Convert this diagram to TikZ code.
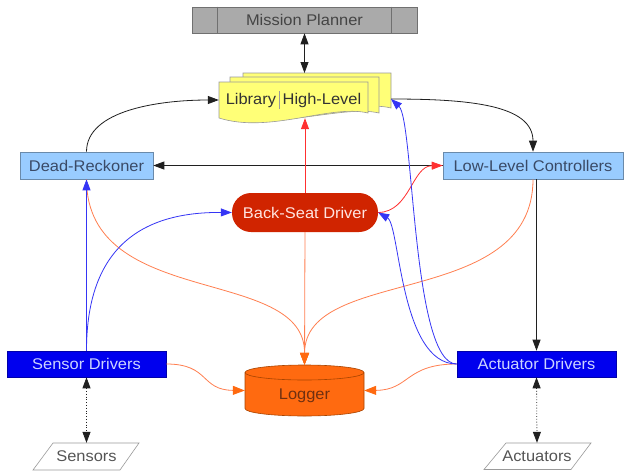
\documentclass[tikz,border=0pt]{standalone}
\usepackage{fontspec}
\setmainfont{Liberation Sans}[FakeStretch=1.06]
\usetikzlibrary{arrows.meta,shapes.geometric,calc}
\definecolor{lblue}{HTML}{99CCFF}
\definecolor{lbord}{HTML}{6A8AAA}
\definecolor{ltext}{HTML}{3A4A66}
\definecolor{mpfill}{HTML}{AAAAAA}
\definecolor{mpbord}{HTML}{707070}
\definecolor{mptext}{HTML}{444444}
\definecolor{libfill}{HTML}{FFFF77}
\definecolor{libbord}{HTML}{9A9A9A}
\definecolor{libtext}{HTML}{333333}
\definecolor{drvfill}{HTML}{0000EE}
\definecolor{drvbord}{HTML}{0000AA}
\definecolor{drvtext}{HTML}{CCD4FF}
\definecolor{bsdfill}{HTML}{D02400}
\definecolor{bsdtext}{HTML}{FFE4E0}
\definecolor{logfill}{HTML}{FF6A10}
\definecolor{logbord}{HTML}{A84400}
\definecolor{logtext}{HTML}{703010}
\definecolor{iobord}{HTML}{9A9A9A}
\definecolor{iotext}{HTML}{555555}
\definecolor{blk}{HTML}{202020}
\definecolor{bline}{HTML}{3535F5}
\definecolor{rline}{HTML}{FF3030}
\definecolor{oline}{HTML}{FF7F50}
\begin{document}
\begin{tikzpicture}[x=1pt,y=-1pt,
  every node/.style={font=\fontsize{15.5}{18}\selectfont, inner sep=0pt},
  tip/.style={-{Triangle[length=11pt,width=8pt]}},
  otip/.style={-{Triangle[length=12pt,width=9pt,color=logfill]}},
  dtip/.style={{Triangle[length=11pt,width=8pt]}-{Triangle[length=11pt,width=8pt]}},
  lbox/.style={draw=lbord, fill=lblue, text=ltext, minimum height=27pt, line width=0.6pt},
  dbox/.style={draw=drvbord, fill=drvfill, text=drvtext, minimum height=26pt, minimum width=159pt, line width=0.6pt},
  iobox/.style={text=iotext, minimum height=27pt, minimum width=87pt},
  ioshape/.style={draw=iobord, fill=white, line width=0.6pt},
  sheet/.style={draw=libbord, fill=libfill, line width=0.6pt},
  kline/.style={draw=blk, line width=0.8pt},
  bconn/.style={draw=bline, line width=0.8pt},
  rconn/.style={draw=rline, line width=0.8pt},
  oconn/.style={draw=oline, line width=0.8pt}
]
\fill[white] (0,0) rectangle (625,472);
\useasboundingbox (0,0) rectangle (625,472);

% Mission Planner
\node[draw=mpbord, fill=mpfill, text=mptext, minimum width=225pt, minimum height=26pt, line width=0.6pt] (mp) at (304.5,20) {Mission Planner};
\draw[mpbord, line width=0.6pt] ($(mp.north west)+(26,0)$) -- ($(mp.south west)+(26,0)$);
\draw[mpbord, line width=0.6pt] ($(mp.north east)+(-26,0)$) -- ($(mp.south east)+(-26,0)$);

% Library stack
\draw[sheet] (243,73) -- (391,73) -- (391,108) .. controls (360,100) and (300,122) .. (243,112) -- cycle;
\draw[sheet] (230,77) -- (379,77) -- (379,113) .. controls (345,105) and (285,128) .. (230,117) -- cycle;
\draw[sheet] (219,82) -- (368,82) -- (368,113) .. controls (330,104) and (270,134) .. (219,118) -- cycle;
\node[text=libtext, minimum width=149pt, minimum height=36pt] (lib) at (293.5,100)
  {Library\hspace{3pt}\textcolor{libbord}{\vrule width 0.6pt height 13pt depth 5pt}\hspace{3pt}High-Level};
\coordinate (libtop) at (304.5,73);
\coordinate (libeast) at (391,99);

% Boxes
\node[lbox, minimum width=133pt] (dr) at (86.5,165.5) {Dead-Reckoner};
\node[lbox, minimum width=180pt] (llc) at (533,165.5) {Low-Level Controllers};
\node[fill=bsdfill, text=bsdtext, rounded corners=19pt, minimum width=146pt, minimum height=39pt] (bsd) at (305,212.5) {Back-Seat Driver};
\node[dbox] (sd) at (86.5,364) {Sensor Drivers};
\node[dbox] (ad) at (536.5,364) {Actuator Drivers};

% Sensors / Actuators parallelograms
\draw[ioshape] (33,470) -- (120,470) -- (139,443) -- (53,443) -- cycle;
\draw[ioshape] (484,469.5) -- (571,469.5) -- (591,443) -- (506,443) -- cycle;
\node[iobox] (sens) at (86.5,456.5) {Sensors};
\node[iobox] (act) at (537,456.5) {Actuators};

% Logger cylinder
\node[minimum width=119pt, minimum height=51pt] (logger) at (304.5,390.5) {};
\filldraw[fill=logfill, draw=logbord, line width=0.6pt] (245,372.5) -- (245,408.5) arc[start angle=180, end angle=0, x radius=59.5, y radius=7.5] -- (364,372.5);
\filldraw[fill=logfill, draw=logbord, line width=0.6pt] (304.5,372.5) ellipse [x radius=59.5, y radius=7.5];
\node[text=logtext] (logtxt) at (304.5,396) {Logger};

% Connectors: black
\draw[kline, dtip] (mp.south) -- (libtop);
\draw[kline, tip] (dr.north) .. controls (86.5,110) and (160,100) .. (lib.west);
\draw[kline, tip] (libeast) .. controls (470,99) and (533,105) .. (llc.north);
\draw[kline, {Triangle[length=11pt,width=8pt]}-] (dr.east) -- (llc.west);
\draw[kline, tip] (ad.north |- llc.south) -- (ad.north);
\draw[kline, dotted, dtip] (sd.south) -- (sens.north);
\draw[kline, dotted, dtip] (ad.south) -- (act.north);

% orange
\draw[oconn, otip] (dr.south) .. controls (86.5,310) and (305,265) .. (logger.north);
\draw[oconn, otip] (llc.south) .. controls (533,310) and (305,265) .. (logger.north);
\draw[oconn, otip] (bsd.south) -- (logger.north);
\draw[oconn, otip] (sd.east) .. controls (210,364) and (200,390) .. (logger.west);
\draw[oconn, otip] (ad.west) .. controls (405,364) and (410,390) .. (logger.east);

% red
\draw[rconn, tip] (bsd.north) -- (bsd.north |- lib.south);
\draw[rconn, tip] (bsd.east) .. controls (410,212) and (412,166) .. (llc.west);

% blue
\draw[bconn, tip] (sd.north) -- (dr.south);
\draw[bconn, tip] (sd.north) .. controls (86.5,240) and (150,212) .. (bsd.west);
\draw[bconn, tip] (ad.west) .. controls (400,364) and (400,225) .. (bsd.east);
\draw[bconn, tip] (ad.west) .. controls (412,364) and (414,120) .. (libeast);
\end{tikzpicture}
\end{document}
